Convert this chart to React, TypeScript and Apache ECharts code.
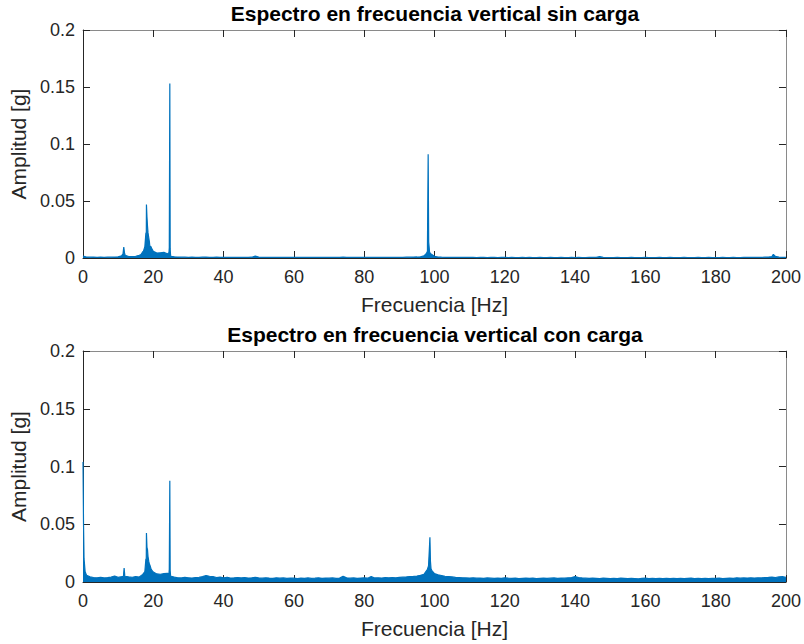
import React, { useEffect, useRef } from "react";
import * as echarts from "echarts";

// Titles and labels
const titles = [
  "Espectro en frecuencia vertical sin carga",
  "Espectro en frecuencia vertical con carga",
];
const xName = "Frecuencia [Hz]";
const yName = "Amplitud [g]";
const yTickLabels = ["0", "0.05", "0.1", "0.15", "0.2"];

// Spectrum floor, one value per Hz (0..200), amplitude in g
const topFloor = [
  0.0016, 0.0009, 0.0007, 0.0008, 0.0006, 0.0007, 0.0006, 0.0007, 0.0007, 0.0008,
  0.0010, 0.0019, 0.0024, 0.0013, 0.0012, 0.0015, 0.0024, 0.0055, 0.0130, 0.0105,
  0.0058, 0.0043, 0.0046, 0.0049, 0.0036, 0.0015, 0.0010, 0.0008, 0.0007, 0.0007,
  0.0006, 0.0007, 0.0006, 0.0006, 0.0007, 0.0008, 0.0006, 0.0006, 0.0007, 0.0006,
  0.0006, 0.0006, 0.0005, 0.0006, 0.0006, 0.0005, 0.0006, 0.0006, 0.0007, 0.0016,
  0.0008, 0.0006, 0.0005, 0.0006, 0.0005, 0.0005, 0.0006, 0.0005, 0.0005, 0.0006,
  0.0005, 0.0005, 0.0006, 0.0005, 0.0005, 0.0006, 0.0005, 0.0005, 0.0005, 0.0006,
  0.0005, 0.0006, 0.0005, 0.0006, 0.0007, 0.0005, 0.0005, 0.0006, 0.0005, 0.0005,
  0.0006, 0.0005, 0.0006, 0.0005, 0.0005, 0.0006, 0.0005, 0.0006, 0.0005, 0.0005,
  0.0006, 0.0006, 0.0007, 0.0007, 0.0008, 0.0009, 0.0011, 0.0019, 0.0060, 0.0036,
  0.0015, 0.0009, 0.0007, 0.0006, 0.0006, 0.0005, 0.0005, 0.0006, 0.0005, 0.0005,
  0.0005, 0.0005, 0.0004, 0.0005, 0.0005, 0.0004, 0.0005, 0.0005, 0.0004, 0.0005,
  0.0005, 0.0004, 0.0005, 0.0004, 0.0004, 0.0005, 0.0004, 0.0005, 0.0004, 0.0004,
  0.0005, 0.0004, 0.0004, 0.0005, 0.0004, 0.0004, 0.0005, 0.0004, 0.0004, 0.0005,
  0.0004, 0.0005, 0.0004, 0.0004, 0.0005, 0.0005, 0.0006, 0.0012, 0.0006, 0.0004,
  0.0004, 0.0004, 0.0005, 0.0004, 0.0004, 0.0004, 0.0005, 0.0004, 0.0004, 0.0004,
  0.0005, 0.0004, 0.0004, 0.0004, 0.0005, 0.0004, 0.0004, 0.0005, 0.0004, 0.0004,
  0.0004, 0.0005, 0.0004, 0.0004, 0.0004, 0.0005, 0.0004, 0.0004, 0.0005, 0.0004,
  0.0004, 0.0004, 0.0005, 0.0004, 0.0004, 0.0005, 0.0004, 0.0004, 0.0005, 0.0005,
  0.0005, 0.0005, 0.0006, 0.0006, 0.0007, 0.0008, 0.0012, 0.0014, 0.0007, 0.0005,
  0.0005,
];

// Narrow peaks [frequency Hz, amplitude g]
const topPeaks: [number, number][] = [
  [11.4, 0.004], [11.6, 0.0095], [11.8, 0.0045],
  [16.5, 0.003], [17.2, 0.006], [17.6, 0.01], [17.9, 0.022], [18.05, 0.047],
  [18.2, 0.036], [18.35, 0.028], [18.5, 0.022], [18.7, 0.018], [18.9, 0.014],
  [19.3, 0.01], [19.6, 0.008],
  [24.45, 0.0045], [24.55, 0.009], [24.7, 0.153], [24.8, 0.008], [24.9, 0.003],
  [97.7, 0.004], [98.0, 0.012], [98.2, 0.091], [98.35, 0.014], [98.6, 0.005],
  [196.4, 0.0032],
];

const bottomFloor = [
  0.1040, 0.0058, 0.0044, 0.0039, 0.0036, 0.0041, 0.0035, 0.0038, 0.0042, 0.0052,
  0.0040, 0.0046, 0.0052, 0.0044, 0.0041, 0.0047, 0.0043, 0.0066, 0.0190, 0.0140,
  0.0086, 0.0070, 0.0067, 0.0072, 0.0076, 0.0050, 0.0042, 0.0037, 0.0035, 0.0040,
  0.0037, 0.0034, 0.0038, 0.0041, 0.0046, 0.0056, 0.0050, 0.0046, 0.0039, 0.0042,
  0.0037, 0.0040, 0.0034, 0.0036, 0.0039, 0.0035, 0.0038, 0.0034, 0.0036, 0.0040,
  0.0035, 0.0033, 0.0037, 0.0034, 0.0032, 0.0036, 0.0033, 0.0035, 0.0031, 0.0034,
  0.0033, 0.0030, 0.0034, 0.0032, 0.0035, 0.0031, 0.0033, 0.0036, 0.0032, 0.0034,
  0.0033, 0.0035, 0.0031, 0.0034, 0.0049, 0.0036, 0.0033, 0.0035, 0.0032, 0.0034,
  0.0036, 0.0033, 0.0048, 0.0035, 0.0037, 0.0034, 0.0038, 0.0036, 0.0039, 0.0037,
  0.0040, 0.0042, 0.0044, 0.0047, 0.0049, 0.0052, 0.0058, 0.0066, 0.0110, 0.0120,
  0.0072, 0.0062, 0.0056, 0.0050, 0.0047, 0.0044, 0.0040, 0.0038, 0.0036, 0.0035,
  0.0034, 0.0036, 0.0033, 0.0034, 0.0032, 0.0035, 0.0033, 0.0031, 0.0034, 0.0032,
  0.0036, 0.0033, 0.0031, 0.0033, 0.0030, 0.0032, 0.0034, 0.0031, 0.0033, 0.0030,
  0.0032, 0.0034, 0.0031, 0.0033, 0.0035, 0.0032, 0.0034, 0.0033, 0.0036, 0.0038,
  0.0047, 0.0039, 0.0035, 0.0033, 0.0031, 0.0034, 0.0032, 0.0030, 0.0033, 0.0031,
  0.0029, 0.0032, 0.0030, 0.0033, 0.0031, 0.0029, 0.0032, 0.0030, 0.0028, 0.0031,
  0.0033, 0.0030, 0.0032, 0.0029, 0.0031, 0.0030, 0.0032, 0.0029, 0.0031, 0.0030,
  0.0032, 0.0029, 0.0031, 0.0033, 0.0030, 0.0032, 0.0029, 0.0031, 0.0030, 0.0032,
  0.0031, 0.0033, 0.0030, 0.0032, 0.0034, 0.0031, 0.0036, 0.0033, 0.0035, 0.0034,
  0.0036, 0.0034, 0.0037, 0.0035, 0.0038, 0.0040, 0.0043, 0.0039, 0.0044, 0.0046,
  0.0041,
];

const bottomPeaks: [number, number][] = [
  [0.15, 0.05], [0.3, 0.02], [0.6, 0.009],
  [11.5, 0.005], [11.7, 0.012], [11.9, 0.005],
  [17.6, 0.009], [17.9, 0.02], [18.05, 0.0425], [18.2, 0.03], [18.35, 0.028],
  [18.5, 0.022], [18.7, 0.018], [19.0, 0.015], [19.3, 0.012], [19.6, 0.01],
  [24.45, 0.007], [24.55, 0.011], [24.7, 0.0876], [24.8, 0.01], [24.9, 0.006],
  [98.3, 0.014], [98.5, 0.026], [98.7, 0.0388], [98.85, 0.018], [99.2, 0.01],
];

function buildSeries(floor: number[], peaks: [number, number][]) {
  const pts: [number, number][] = floor.map((v, i) => [i, v] as [number, number]);
  for (const p of peaks) pts.push(p);
  pts.sort((a, b) => a[0] - b[0]);
  return pts;
}

const BLUE = "#0072BD";
const AX = "#262626";
const BOX = "#8a8a8a";
const FONT = "Liberation Sans";

export default function App() {
  const ref = useRef<HTMLDivElement>(null);
  useEffect(() => {
    if (!ref.current) return;
    const chart = echarts.init(ref.current, undefined, { renderer: "svg" });
    const grids = [
      { left: 83, top: 30, width: 704, height: 228 },
      { left: 83, top: 351, width: 704, height: 231 },
    ];
    const data = [buildSeries(topFloor, topPeaks), buildSeries(bottomFloor, bottomPeaks)];

    const xAxes: any[] = [];
    const yAxes: any[] = [];
    const series: any[] = [];
    grids.forEach((_, g) => {
      xAxes.push({
        type: "value",
        gridIndex: g,
        position: "bottom",
        min: 0,
        max: 200,
        interval: 20,
        name: xName,
        nameLocation: "middle",
        nameGap: 36,
        nameTextStyle: { fontFamily: FONT, fontSize: 21, color: AX },
        axisLine: { show: true, onZero: false, lineStyle: { color: AX, width: 1 } },
        axisTick: { show: true, inside: true, length: 7, lineStyle: { color: AX } },
        axisLabel: { fontFamily: FONT, fontSize: 18, color: AX, margin: 10 },
        splitLine: { show: false },
      });
      xAxes.push({
        type: "value",
        gridIndex: g,
        position: "top",
        min: 0,
        max: 200,
        interval: 20,
        axisLine: { show: true, onZero: false, lineStyle: { color: BOX, width: 1 } },
        axisTick: { show: true, inside: true, length: 7, lineStyle: { color: AX } },
        axisLabel: { show: false },
        splitLine: { show: false },
      });
      yAxes.push({
        type: "value",
        gridIndex: g,
        position: "left",
        min: 0,
        max: 0.2,
        interval: 0.05,
        name: yName,
        nameLocation: "middle",
        nameGap: 49,
        nameRotate: 90,
        nameTextStyle: { fontFamily: FONT, fontSize: 21, color: AX },
        axisLine: { show: true, onZero: false, lineStyle: { color: AX, width: 1 } },
        axisTick: { show: true, inside: true, length: 7, lineStyle: { color: AX } },
        axisLabel: {
          fontFamily: FONT,
          fontSize: 18,
          color: AX,
          margin: 8,
          formatter: (v: number) => yTickLabels[Math.round(v / 0.05)] ?? "",
        },
        splitLine: { show: false },
      });
      yAxes.push({
        type: "value",
        gridIndex: g,
        position: "right",
        min: 0,
        max: 0.2,
        interval: 0.05,
        axisLine: { show: true, onZero: false, lineStyle: { color: BOX, width: 1 } },
        axisTick: { show: true, inside: true, length: 7, lineStyle: { color: AX } },
        axisLabel: { show: false },
        splitLine: { show: false },
      });
      series.push({
        type: "line",
        xAxisIndex: g * 2,
        yAxisIndex: g * 2,
        data: data[g],
        showSymbol: false,
        symbol: "none",
        lineStyle: { color: BLUE, width: 1.2 },
        areaStyle: { color: BLUE, opacity: 1 },
        clip: true,
        z: 3,
      });
    });

    chart.setOption({
      animation: false,
      backgroundColor: "#ffffff",
      title: titles.map((t, i) => ({
        text: t,
        left: 435,
        top: i === 0 ? 3 : 324,
        textAlign: "center",
        padding: 0,
        textStyle: { fontFamily: FONT, fontSize: 21, fontWeight: "bold", color: "#000000" },
      })),
      grid: grids,
      xAxis: xAxes,
      yAxis: yAxes,
      series,
    });
    return () => chart.dispose();
  }, []);
  return (
    <div
      ref={ref}
      style={{ position: "fixed", left: 0, top: 0, width: 804, height: 644, background: "#fff" }}
    />
  );
}
